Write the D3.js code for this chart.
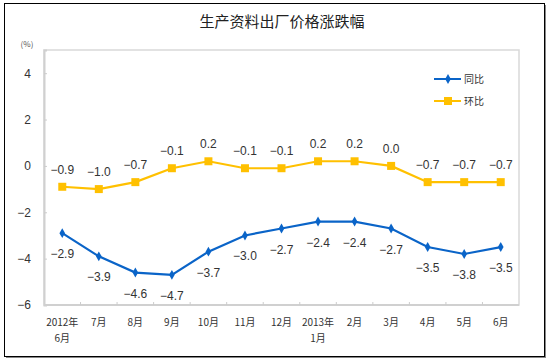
<!DOCTYPE html>
<html>
<head>
<meta charset="utf-8">
<script src="https://cdn.jsdelivr.net/npm/d3@7"></script>
<style>
  body { margin: 0; background: #fff; }
  svg { display: block; font-family: "Noto Sans CJK SC", "Liberation Sans", sans-serif; }
</style>
</head>
<body>
<svg id="chart" width="550" height="362"></svg>
<script>
// Data
const categories = ["2012年\n6月", "7月", "8月", "9月", "10月", "11月", "12月", "2013年\n1月", "2月", "3月", "4月", "5月", "6月"];
const yoyValues = [-2.9, -3.9, -4.6, -4.7, -3.7, -3.0, -2.7, -2.4, -2.4, -2.7, -3.5, -3.8, -3.5];
const momValues = [-0.9, -1.0, -0.7, -0.1, 0.2, -0.1, -0.1, 0.2, 0.2, 0.0, -0.7, -0.7, -0.7];
const yTicks = [4, 2, 0, -2, -4, -6];
const seriesNames = ["同比", "环比"];

const BLUE = "#0a64c8";
const YELLOW = "#ffc000";

const svg = d3.select("#chart");

// Outer frame with shadow
svg.append("rect").attr("x", 6).attr("y", 5).attr("width", 540).attr("height", 353).attr("fill", "#888");
svg.append("rect").attr("x", 4.5).attr("y", 3.5).attr("width", 540).attr("height", 353)
  .attr("fill", "#fff").attr("stroke", "#000").attr("stroke-width", 1);

// Plot area
const plot = { left: 44, top: 50, right: 519, bottom: 305 };

svg.append("rect")
  .attr("x", plot.left).attr("y", plot.top)
  .attr("width", plot.right - plot.left).attr("height", plot.bottom - plot.top)
  .attr("fill", "none").attr("stroke", "#d9d9d9").attr("stroke-width", 1.5);

const x = d3.scaleBand().domain(categories).range([plot.left, plot.right]);
const y = d3.scaleLinear().domain([-6, 5]).range([plot.bottom, plot.top]);
const cx = d => x(d) + x.bandwidth() / 2;

// Title
svg.append("text").attr("x", 282).attr("y", 27).attr("text-anchor", "middle")
  .attr("font-size", 15).attr("fill", "#222").text("生产资料出厂价格涨跌幅");

svg.append("text").attr("x", 27).attr("y", 47).attr("text-anchor", "middle")
  .attr("font-size", 8).attr("fill", "#555").text("(%)");

// Y axis
const yAxis = svg.append("g").attr("transform", `translate(${plot.left},0)`)
  .call(d3.axisRight(y).tickValues(yTicks).tickSize(3).tickFormat(d3.format("d")));
yAxis.select(".domain").attr("stroke", "#d0d0d0").attr("stroke-width", 2);
yAxis.selectAll(".tick line").attr("stroke", "#ccc");
yAxis.selectAll(".tick text").attr("x", -13).attr("text-anchor", "end")
  .attr("font-size", 12).attr("fill", "#333").attr("font-family", "Liberation Sans, sans-serif");

// X axis ticks between categories
const xAxis = svg.append("g").attr("transform", `translate(0,${plot.bottom})`);
xAxis.append("line").attr("x1", plot.left).attr("x2", plot.right)
  .attr("stroke", "#d0d0d0").attr("stroke-width", 2);
xAxis.selectAll(".xt").data(categories.slice(1)).enter().append("line")
  .attr("x1", d => x(d)).attr("x2", d => x(d)).attr("y1", 0).attr("y2", -3)
  .attr("stroke", "#ccc");

const xl = svg.append("g").selectAll("text").data(categories).enter().append("text")
  .attr("x", d => cx(d)).attr("y", 326).attr("text-anchor", "middle")
  .attr("font-size", 10).attr("fill", "#333");
xl.each(function (d) {
  const parts = d.split("\n");
  const t = d3.select(this);
  parts.forEach((p, i) => {
    t.append("tspan").attr("x", cx(d)).attr("dy", i === 0 ? 0 : 16).text(p);
  });
});

// Lines
const line = d3.line().x((d, i) => cx(categories[i])).y(d => y(d));

svg.append("path").datum(momValues).attr("d", line)
  .attr("fill", "none").attr("stroke", YELLOW).attr("stroke-width", 2.2);
svg.append("path").datum(yoyValues).attr("d", line)
  .attr("fill", "none").attr("stroke", BLUE).attr("stroke-width", 2.2);

// Markers
svg.selectAll(".sq").data(momValues).enter().append("rect")
  .attr("x", (d, i) => cx(categories[i]) - 4).attr("y", d => y(d) - 4)
  .attr("width", 8).attr("height", 8).attr("fill", YELLOW);

const diamond = d3.symbol().type(d3.symbolDiamond).size(28);
svg.selectAll(".dm").data(yoyValues).enter().append("path")
  .attr("d", diamond)
  .attr("transform", (d, i) => `translate(${cx(categories[i])},${y(d)})`)
  .attr("fill", BLUE);

// Data labels
const fmt = d3.format(".1f");
svg.selectAll(".ml").data(momValues).enter().append("text")
  .attr("x", (d, i) => cx(categories[i])).attr("y", d => y(d) - 13)
  .attr("text-anchor", "middle").attr("font-size", 12).attr("fill", "#333")
  .attr("font-family", "Liberation Sans, sans-serif")
  .text(d => fmt(d));

svg.selectAll(".yl").data(yoyValues).enter().append("text")
  .attr("x", (d, i) => cx(categories[i])).attr("y", d => y(d) + 25)
  .attr("text-anchor", "middle").attr("font-size", 12).attr("fill", "#333")
  .attr("font-family", "Liberation Sans, sans-serif")
  .text(d => fmt(d));

// Legend
const legend = svg.append("g");
const legendColors = [BLUE, YELLOW];
seriesNames.forEach((name, i) => {
  const ly = 79 + i * 22;
  const g = legend.append("g").attr("transform", `translate(434,${ly})`);
  g.append("line").attr("x1", 0).attr("x2", 27).attr("stroke", legendColors[i]).attr("stroke-width", 2);
  if (i === 0) {
    g.append("path").attr("d", diamond).attr("transform", "translate(14,0)").attr("fill", BLUE);
  } else {
    g.append("rect").attr("x", 10).attr("y", -4).attr("width", 8).attr("height", 8).attr("fill", YELLOW);
  }
  g.append("text").attr("x", 30).attr("y", 4).attr("font-size", 10).attr("fill", "#333").text(name);
});
</script>
</body>
</html>
